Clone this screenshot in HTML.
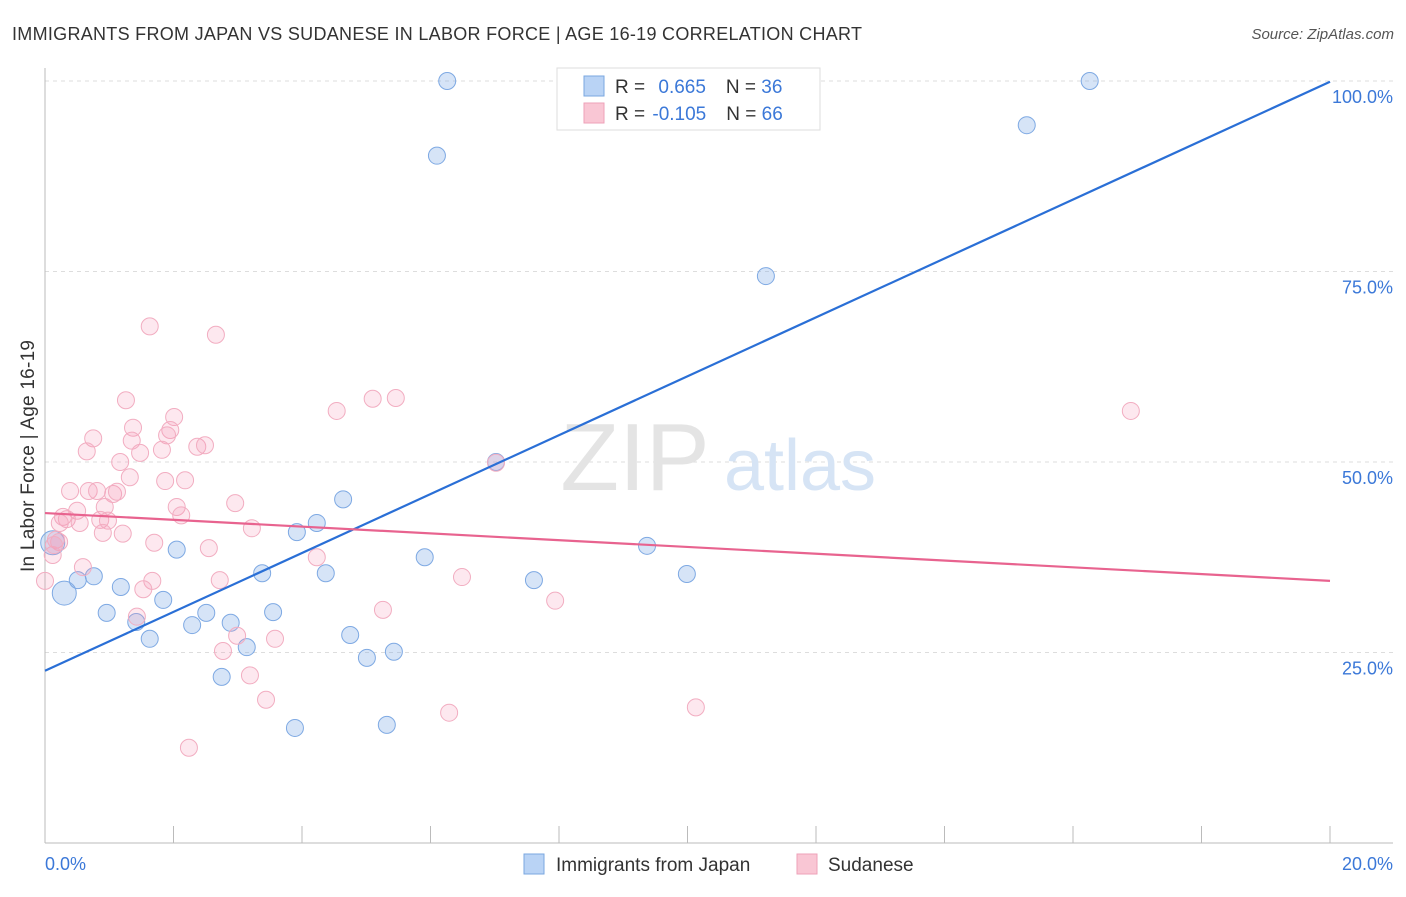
<!DOCTYPE html>
<html><head><meta charset="utf-8"><style>
body{margin:0;background:#fff;font-family:"Liberation Sans",sans-serif;}
svg text{font-family:"Liberation Sans",sans-serif;}
</style></head><body>
<svg id="chart" width="1406" height="892" xmlns="http://www.w3.org/2000/svg">
<text x="12" y="40" font-size="18" fill="#333" textLength="850" lengthAdjust="spacing">IMMIGRANTS FROM JAPAN VS SUDANESE IN LABOR FORCE | AGE 16-19 CORRELATION CHART</text>
<text x="1394" y="39" font-size="15" fill="#555" text-anchor="end" font-style="italic">Source: ZipAtlas.com</text>
<g id="grid"></g>
<text x="635" y="490" font-size="96" fill="#e4e4e4" font-family="Liberation Serif" text-anchor="middle">ZIP</text>
<text x="800" y="490" font-size="72" fill="#d6e4f5" text-anchor="middle">atlas</text>
<g id="pts"></g>
<g id="lines"></g>
<text x="34" y="456" font-size="19" fill="#333" text-anchor="middle" transform="rotate(-90 34 456)" textLength="232" lengthAdjust="spacing">In Labor Force | Age 16-19</text>
<text x="45" y="870" font-size="18" fill="#3b78d8">0.0%</text>
<text x="1393" y="870" font-size="18" fill="#3b78d8" text-anchor="end">20.0%</text>
<g>
<rect x="557" y="68" width="263" height="62" fill="#fff" stroke="#ddd"/>
<rect x="584" y="76" width="20" height="20" fill="#b9d3f5" stroke="#7aa7e0"/>
<rect x="584" y="103" width="20" height="20" fill="#f9c6d4" stroke="#eea1b8"/>
<text x="615" y="93" font-size="19" fill="#333">R = <tspan fill="#3b78d8" dx="8">0.665</tspan><tspan dx="20">N = </tspan><tspan fill="#3b78d8">36</tspan></text>
<text x="615" y="120" font-size="19" fill="#333">R = <tspan fill="#3b78d8" dx="2">-0.105</tspan><tspan dx="20">N = </tspan><tspan fill="#3b78d8">66</tspan></text>
</g>
<g>
<rect x="524" y="854" width="20" height="20" fill="#b9d3f5" stroke="#7aa7e0"/>
<text x="556" y="871" font-size="19" fill="#333">Immigrants from Japan</text>
<rect x="797" y="854" width="20" height="20" fill="#f9c6d4" stroke="#eea1b8"/>
<text x="828" y="871" font-size="19" fill="#333">Sudanese</text>
</g>
</svg>
<script>
const yTicks=[25,50,75,100];
const yTickLabels=["25.0%","50.0%","75.0%","100.0%"];
const xTicks=[0,2,4,6,8,10,12,14,16,18,20];
const japanX=[6.26,16.26,15.28,6.10,11.22,7.02,4.64,4.23,3.92,9.37,2.05,0.12,0.76,0.51,0.30,1.18,3.38,4.37,5.91,7.61,9.99,1.84,0.96,2.51,3.55,1.42,2.29,2.89,1.63,4.75,3.14,5.01,5.43,2.75,3.89,5.32];
const japanY=[100,100,94.2,90.2,74.4,50.0,45.1,42.0,40.8,39.0,38.5,39.4,35.0,34.5,32.8,33.6,35.4,35.4,37.5,34.5,35.3,31.9,30.2,30.2,30.3,29.0,28.6,28.9,26.8,27.3,25.7,24.3,25.1,21.8,15.1,15.5];
const japanBig=[0,0,0,0,0,0,0,0,0,0,0,1,0,0,1,0,0,0,0,0,0,0,0,0,0,0,0,0,0,0,0,0,0,0,0,0];
const sudX=[1.63,2.66,1.26,2.01,4.54,5.10,5.46,16.90,1.37,1.95,0.75,1.90,1.35,0.65,1.48,1.82,2.37,2.49,1.17,1.32,1.87,2.18,0.39,0.68,0.81,1.06,1.12,2.05,2.96,0.93,0.28,0.50,2.12,0.34,0.23,0.54,0.86,0.98,1.21,0.90,3.22,0.17,0.22,0.12,1.70,2.55,4.23,0.59,1.67,2.72,6.49,0.0,1.53,5.26,7.94,1.43,2.99,3.58,2.77,3.19,3.44,6.29,10.13,2.24,7.02,0.14];
const sudY=[67.8,66.7,58.1,55.9,56.7,58.3,58.4,56.7,54.5,54.2,53.1,53.5,52.8,51.4,51.2,51.6,52.0,52.2,50.0,48.0,47.5,47.6,46.2,46.2,46.2,45.8,46.1,44.1,44.6,44.1,42.8,43.6,43.0,42.5,42.0,42.0,42.4,42.3,40.6,40.7,41.3,39.8,39.5,37.8,39.4,38.7,37.5,36.2,34.4,34.5,34.9,34.4,33.3,30.6,31.8,29.7,27.2,26.8,25.2,22.0,18.8,17.1,17.8,12.5,49.9,39.1];
const japanTrend=[22.6,99.9];
const sudTrend=[43.3,34.4];
const X=v=>45+v/20*1285, Y=v=>843-v/100*762;
const NS="http://www.w3.org/2000/svg";
const grid=document.getElementById('grid'),pts=document.getElementById('pts'),lines=document.getElementById('lines'),svg=document.getElementById('chart');
function mk(t,a,p){const e=document.createElementNS(NS,t);for(const k in a)e.setAttribute(k,a[k]);p.appendChild(e);return e;}
yTicks.forEach((t,i)=>{
 const l=mk('line',{x1:45,x2:1393,y1:Y(t),y2:Y(t),stroke:'#ddd','stroke-dasharray':'4 4'},grid);
 
 
 const tx=mk('text',{x:1393,y:Y(t)+22,'font-size':18,fill:'#3b78d8','text-anchor':'end'},svg);
 tx.textContent=yTickLabels[i];
 
 
});
const ax=mk('line',{x1:45,x2:45,y1:68,y2:843,stroke:'#bbb'},grid);


const bx=mk('line',{x1:45,x2:1393,y1:843,y2:843,stroke:'#bbb'},grid);


xTicks.forEach(t=>{
 const l=mk('line',{x1:X(t),x2:X(t),y1:826,y2:843,stroke:'#bbb'},grid);
 
 
});
japanX.forEach((x,i)=>{
 const c=mk('circle',{cx:X(x),cy:Y(japanY[i]),r:japanBig[i]?12:8.5,fill:'rgba(120,165,230,0.3)',stroke:'#7ea9e3','stroke-width':1},pts);
 
 
});
sudX.forEach((x,i)=>{
 const c=mk('circle',{cx:X(x),cy:Y(sudY[i]),r:8.5,fill:'rgba(245,150,180,0.22)',stroke:'#f2adc1','stroke-width':1},pts);
 
 
});
const l1=mk('line',{x1:X(0),y1:Y(japanTrend[0]),x2:X(20),y2:Y(japanTrend[1]),stroke:'#2a6fd6','stroke-width':2.2},lines);


const l2=mk('line',{x1:X(0),y1:Y(sudTrend[0]),x2:X(20),y2:Y(sudTrend[1]),stroke:'#e8638f','stroke-width':2.2},lines);


</script>
</body></html>
